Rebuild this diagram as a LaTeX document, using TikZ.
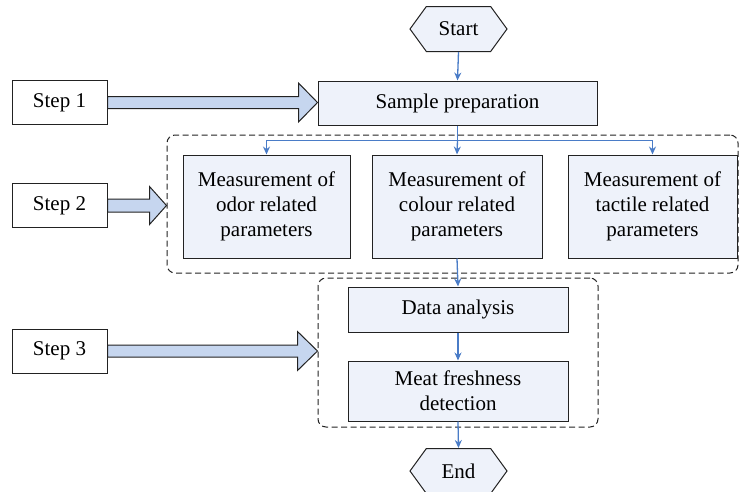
\documentclass[tikz,border=0pt]{standalone}
\usepackage{fontspec}
\setmainfont{Liberation Serif}
\usetikzlibrary{arrows.meta,shapes.symbols,calc}
\definecolor{boxfill}{HTML}{EEF2FA}
\definecolor{flowblue}{HTML}{4A7CC7}
\definecolor{bigfill}{HTML}{C6D6EF}
\definecolor{edge}{HTML}{222222}
\tikzset{
  every node/.style={font=\fontsize{21}{25}\selectfont},
  procbox/.style={draw=edge,line width=1pt,fill=boxfill,rectangle,inner sep=0pt,align=center},
  stepbox/.style={draw=edge,line width=1pt,fill=white,rectangle,inner sep=0pt,minimum width=95pt,minimum height=44pt},
  terminal/.style={draw=edge,line width=1pt,fill=boxfill,signal,signal to=west and east,signal pointer angle=108,inner sep=0pt,minimum width=97pt,minimum height=45pt},
  groupbox/.style={draw=edge,line width=1pt,dash pattern=on 6pt off 3.5pt,rounded corners=8pt,rectangle,inner sep=0pt},
  flow/.style={draw=flowblue,line width=1.3pt,-{Stealth[length=8pt,width=7pt]}},
  flowline/.style={draw=flowblue,line width=1.3pt},
  bigarrow/.style={draw=edge,line width=1pt,fill=bigfill,line join=miter},
}
\begin{document}
\begin{tikzpicture}[x=1pt,y=-1pt]
\useasboundingbox (0,0) rectangle (739,491);

% terminals
\node[terminal] (start) at (458.5,29) {Start};
\node[terminal] (end) at (458.5,471) {End};

% process boxes
\node[procbox,minimum width=279pt,minimum height=44pt] (prep) at (457.5,103) {Sample preparation};
\node[groupbox,minimum width=571pt,minimum height=138pt] (grpA) at (452.5,204) {};
\node[groupbox,minimum width=280pt,minimum height=149pt] (grpB) at (458,352.5) {};
\node[procbox,minimum width=167pt,minimum height=103pt] (odor) at (266.5,206.5) {Measurement of\\odor related\\parameters};
\node[procbox,minimum width=170pt,minimum height=103pt] (colour) at (457,206.5) {Measurement of\\colour related\\parameters};
\node[procbox,minimum width=169pt,minimum height=103pt] (tactile) at (652.5,206.5) {Measurement of\\tactile related\\parameters};
\node[procbox,minimum width=220pt,minimum height=45pt] (data) at (458,309.5) {Data analysis};
\node[procbox,minimum width=220pt,minimum height=60pt] (meat) at (458,391) {Meat freshness\\detection};

% step labels
\node[stepbox] (s1) at (59.5,102.5) {Step 1};
\node[stepbox] (s2) at (59.5,205.5) {Step 2};
\node[stepbox] (s3) at (59.5,351) {Step 3};

% flow connectors
\draw[flow] (start.south) -- (prep.north);
\coordinate (split) at ($(prep.south)+(0,15)$);
\draw[flowline] (prep.south) -- (split);
\draw[flow] (split) -| (odor.north);
\draw[flow] (split) -- (colour.north);
\draw[flow] (split) -| (tactile.north);
\draw[flow] (colour.south) -- (data.north);
\draw[flow] (data.south) -- (meat.north);
\draw[flow] (meat.south) -- (end.north);

% block arrows from the step labels
\draw[bigarrow] let \p1=(s1.east), \p2=(prep.west) in
  (\x1,\y1-6pt) -- (\x2-19pt,\y1-6pt) -- (\x2-19pt,\y1-19.5pt) -- (\x2,\y1)
  -- (\x2-19pt,\y1+19.5pt) -- (\x2-19pt,\y1+6pt) -- (\x1,\y1+6pt) -- cycle;
\draw[bigarrow] let \p1=(s2.east), \p2=(grpA.west) in
  (\x1,\y1-6.5pt) -- (\x2-17pt,\y1-6.5pt) -- (\x2-17pt,\y1-19pt) -- (\x2,\y1)
  -- (\x2-17pt,\y1+19pt) -- (\x2-17pt,\y1+6.5pt) -- (\x1,\y1+6.5pt) -- cycle;
\draw[bigarrow] let \p1=(s3.east), \p2=(grpB.west) in
  (\x1,\y1-6pt) -- (\x2-20pt,\y1-6pt) -- (\x2-20pt,\y1-19.5pt) -- (\x2,\y1)
  -- (\x2-20pt,\y1+19.5pt) -- (\x2-20pt,\y1+6pt) -- (\x1,\y1+6pt) -- cycle;
\end{tikzpicture}
\end{document}
